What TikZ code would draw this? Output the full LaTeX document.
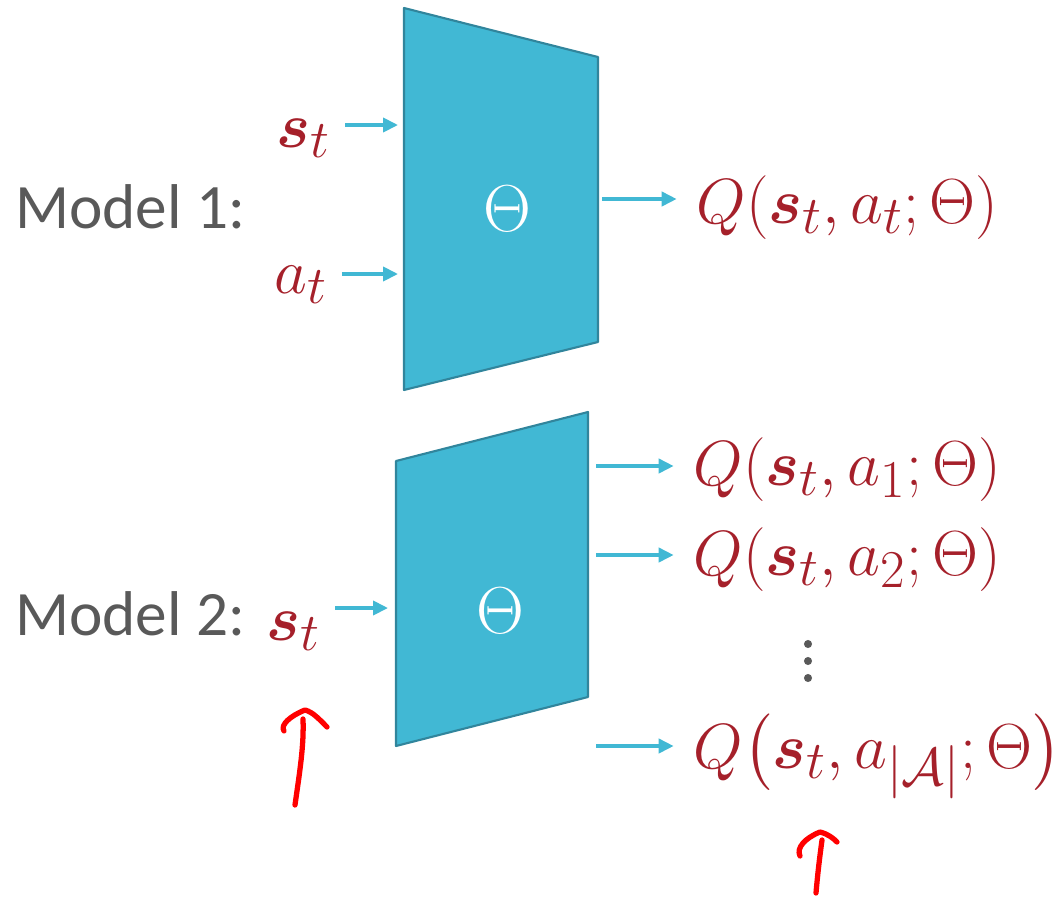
\documentclass[tikz,border=0pt]{standalone}
\usepackage{amsmath,amssymb,bm}
\usepackage{fontspec}
\setsansfont{Carlito}
\usepackage{tikz}
\usetikzlibrary{arrows.meta}
\usepackage{xcolor}

\definecolor{netfill}{HTML}{41B8D4}
\definecolor{netline}{HTML}{31859C}
\definecolor{qred}{HTML}{A5202A}
\definecolor{txtgray}{HTML}{595959}

\tikzset{
  netbox/.style={fill=netfill,draw=netline,line width=1.2pt,line join=round},
  feed/.style={netfill,line width=2pt,-{Triangle[length=8.5pt,width=8pt]}},
  lbl/.style={font=\sffamily\fontsize{36}{43}\selectfont,text=txtgray,inner sep=0pt,anchor=base west},
  sym/.style={text=qred,inner sep=0pt,anchor=base west,font=\Huge,scale=1.46},
  wt/.style={text=white,inner sep=0pt,font=\Huge,scale=1.52},
  pen/.style={red,line width=3pt,line cap=round,line join=round},
}

\begin{document}
\begin{tikzpicture}[x=0.02cm,y=-0.02cm]
\useasboundingbox (0,0) rectangle (1061,896);
% model 1
\draw[netbox] (404,8) -- (598,57) -- (598,342) -- (404,390) -- cycle;
\node[wt] (th1) at (507,209) {$\Theta$};
\coordinate (in1s) at (398,125);
\coordinate (in1a) at (398,274);
\coordinate (out1) at (602,199);
\node[lbl] (m1) at (15,228) {Model 1:};
\node[sym] (st1) at (276,147) {$\bm{s}_t$};
\node[sym] (at1) at (274,293) {$a_t$};
\node[sym] (q1) at (696,223) {$Q(\bm{s}_t,a_t;\Theta)$};
\draw[feed,shorten <=8pt] (st1.east |- in1s) -- (in1s);
\draw[feed,shorten <=8pt] (at1.east |- in1a) -- (in1a);
\draw[feed,shorten >=11pt] (out1) -- (q1.west |- out1);
% model 2
\draw[netbox] (396,461) -- (588,412) -- (588,697) -- (396,746) -- cycle;
\node[wt] (th2) at (500,611) {$\Theta$};
\coordinate (in2s) at (388,608);
\coordinate (o21) at (596,466);
\coordinate (o22) at (596,555);
\coordinate (o23) at (596,746);
\node[lbl] (m2) at (15,635) {Model 2:};
\node[sym] (st2) at (266,640) {$\bm{s}_t$};
\node[sym] (q21) at (693,485) {$Q(\bm{s}_t,a_1;\Theta)$};
\node[sym] (q22) at (693,575) {$Q(\bm{s}_t,a_2;\Theta)$};
\node[sym] (q23) at (693,768) {$Q\bigl(\bm{s}_t,a_{|\mathcal{A}|};\Theta\bigr)$};
\draw[feed,shorten <=8pt] (st2.east |- in2s) -- (in2s);
\draw[feed,shorten >=11pt] (o21) -- (q21.west |- o21);
\draw[feed,shorten >=11pt] (o22) -- (q22.west |- o22);
\draw[feed,shorten >=11pt] (o23) -- (q23.west |- o23);
\foreach \y in {644,661,678}
  \fill[txtgray] (808,\y) circle (2.3pt);
% hand drawn marks
\draw[pen] (295,805) .. controls (300,770) and (304,745) .. (303,719);
\draw[pen] (284,731) .. controls (280,725) and (290,716) .. (305,710) .. controls (313,712) and (320,720) .. (327,727);
\draw[pen] (816,893) .. controls (818,870) and (820,855) .. (822,840);
\draw[pen] (800,856) .. controls (796,848) and (805,838) .. (820,832) .. controls (828,834) and (833,838) .. (837,842);
\end{tikzpicture}
\end{document}
